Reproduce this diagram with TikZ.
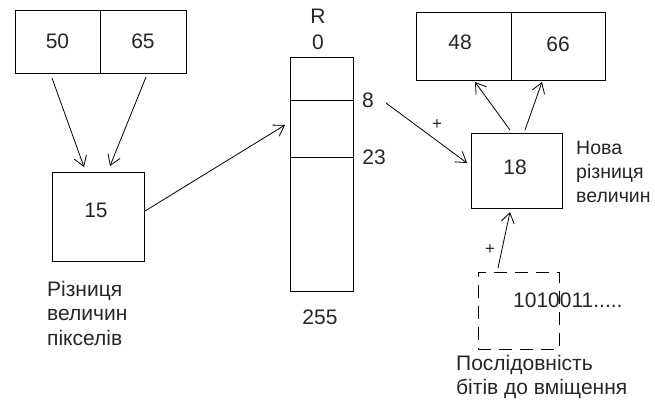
\documentclass[tikz,border=0pt]{standalone}
\usepackage{fontspec}
\setmainfont{Liberation Sans}
\usetikzlibrary{arrows.meta,calc}
\begin{document}
\begin{tikzpicture}[x=1pt,y=-1pt,
  every node/.style={font=\fontsize{21}{24.5}\selectfont, inner sep=0pt, text=black!85},
  cell/.style={draw, line width=0.9pt, minimum width=#1},
  lbl/.style={align=left, anchor=west},
  plus/.style={font=\fontsize{17}{17}\selectfont},
  conn/.style={draw, line width=0.8pt, -{Straight Barb[length=10pt,width=13pt,line width=0.8pt]}},
  dashbox/.style={draw, line width=0.9pt, dash pattern=on 13pt off 8pt}
]
\useasboundingbox (0,0) rectangle (655,407);
% top-left pair
\node[cell=85pt, minimum height=63pt] (a50) at (57.5,41.5) {50};
\node[cell=86pt, minimum height=63pt] (a65) at (143,41.5) {65};
% box 15
\node[cell=92pt, minimum height=89pt] (d15) at (98,216.5) {};
\node (t15) at (96,210) {15};
\node[lbl] (l15) at (47,313) {Різниця\\величин\\пікселів};
% register R
\node[cell=63pt, minimum height=43pt] (r1) at (322,78.5) {};
\node[cell=63pt, minimum height=57pt] (r2) at (322,128.5) {};
\node[cell=63pt, minimum height=134pt] (r3) at (322,224) {};
\node (tR) at (318,16) {R};
\node (t0) at (318,42) {0};
\node (t255) at (320,317) {255};
\node (t8) at (368,100) {8};
\node (t23) at (374,157) {23};
% top-right pair
\node[cell=95pt, minimum height=68pt] (b48) at (463.5,46) {};
\node[cell=94pt, minimum height=68pt] (b66) at (558,46) {};
\node (t48) at (460,42) {48};
\node (t66) at (558,44) {66};
% box 18
\node[cell=91pt, minimum height=75pt] (d18) at (516.5,170.5) {};
\node (t18) at (515,167) {18};
\node[lbl, font=\fontsize{19.5}{24}\selectfont] (l18) at (576,172) {Нова\\різниця\\величин};
% dashed box
\node[dashbox, minimum width=81pt, minimum height=77pt] (bits) at (518.5,310.5) {};
\node[anchor=west] (tbits) at (513,300) {1010011.....};
\node[lbl] (lbits) at (456,377) {Послідовність\\бітів до вміщення};
% connector end points
\coordinate (s50) at (52,78);
\coordinate (e50) at (84,167);
\coordinate (s65) at (146,77);
\coordinate (e65) at (110,166);
\coordinate (s15) at (145,211);
\coordinate (eR) at (285,125);
\coordinate (s8) at (386,103);
\coordinate (e18) at (467,163);
\coordinate (s18a) at (510,130);
\coordinate (e48) at (475,82);
\coordinate (s18b) at (525,130);
\coordinate (e66) at (542,82);
\coordinate (sbits) at (498,268);
\coordinate (e18b) at (510,212);
\draw[conn] (s50) -- (e50);
\draw[conn] (s65) -- (e65);
\draw[conn] (s15) -- (eR);
\draw[conn] (s8) -- (e18);
\draw[conn] (s18a) -- (e48);
\draw[conn] (s18b) -- (e66);
\draw[conn] (sbits) -- (e18b);
\node[plus] (p1) at (437,125) {+};
\node[plus] (p2) at (490,250) {+};
\end{tikzpicture}
\end{document}
